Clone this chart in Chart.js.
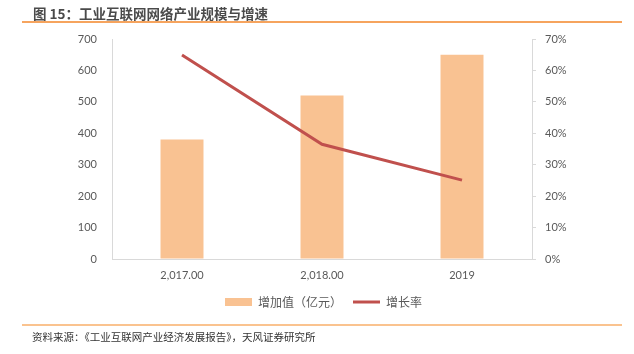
<!DOCTYPE html>
<html>
<head>
<meta charset="utf-8">
<script src="https://cdn.jsdelivr.net/npm/chart.js@4/dist/chart.umd.min.js"></script>
<style>
  html, body { margin: 0; padding: 0; background: #fff; }
  #wrap { position: relative; width: 634px; height: 354px; overflow: hidden; }
  #c { position: absolute; left: 0; top: 0; }
  .title { position: absolute; left: 33px; top: 3px; font: bold 13.5px "Noto Sans CJK SC", sans-serif; color: #4a4a4a; white-space: nowrap; }
  .rule1 { position: absolute; left: 22px; top: 21px; width: 600px; height: 1.5px; background: #F6A45E; }
  .rule2 { position: absolute; left: 22px; top: 324px; width: 600px; height: 1.5px; background: #FAC38F; }
  .source { position: absolute; left: 32px; top: 329px; font: 10.5px "Noto Sans CJK SC", sans-serif; color: #333; white-space: nowrap; }
</style>
</head>
<body>
<div id="wrap">
  <canvas id="c" width="634" height="354"></canvas>
  <div class="title">图 15：工业互联网网络产业规模与增速</div>
  <div class="rule1"></div>
  <div class="rule2"></div>
  <div class="source">资料来源：《工业互联网产业经济发展报告》，天风证券研究所</div>
</div>
<script>
const categories = ["2,017.00", "2,018.00", "2019"];
const valueAdded = [380, 520, 650];        // 增加值（亿元）
const growthRate = [64.9, 36.5, 25.1];     // 增长率 (%)
const leftTicks = [0, 100, 200, 300, 400, 500, 600, 700];
const rightTicks = [0, 10, 20, 30, 40, 50, 60, 70];

const textColor = "#595959";
const tickFont = { family: "Lato, 'Noto Sans CJK SC', sans-serif", size: 11 };

new Chart(document.getElementById("c"), {
  data: {
    labels: categories,
    datasets: [
      {
        type: "bar",
        label: "增加值（亿元）",
        data: valueAdded,
        backgroundColor: "#F9C292",
        borderWidth: 0,
        barPercentage: 0.307,
        categoryPercentage: 1,
        yAxisID: "y",
        order: 2
      },
      {
        type: "line",
        label: "增长率",
        data: growthRate,
        borderColor: "#C0504D",
        backgroundColor: "#C0504D",
        borderWidth: 3,
        pointRadius: 0,
        tension: 0,
        yAxisID: "y1",
        order: 1
      }
    ]
  },
  options: {
    responsive: false,
    animation: false,
    layout: { padding: { left: 13, right: 0, top: 39, bottom: 36 } },
    plugins: {
      tooltip: { enabled: false },
      legend: {
        position: "bottom",
        labels: {
          usePointStyle: true,
          pointStyleWidth: 27,
          boxHeight: 8,
          padding: 11,
          color: textColor,
          font: { family: "'Noto Sans CJK SC', sans-serif", size: 12 },
          sort: (a, b) => a.datasetIndex - b.datasetIndex,
          generateLabels(chart) {
            const items = Chart.defaults.plugins.legend.labels.generateLabels(chart);
            items.forEach(it => {
              if (it.datasetIndex === 0) { it.pointStyle = "rect"; it.lineWidth = 0; }
              else { it.pointStyle = "line"; it.lineWidth = 3; it.strokeStyle = "#C0504D"; }
            });
            return items;
          }
        }
      }
    },
    scales: {
      x: {
        grid: { display: false, drawTicks: false },
        border: { display: true, color: "#D9D9D9", width: 1 },
        ticks: { color: textColor, font: tickFont, padding: 10, maxRotation: 0 },
        afterFit(s) { s.height = 26; }
      },
      y: {
        position: "left",
        min: 0, max: 700,
        afterBuildTicks(s) { s.ticks = leftTicks.map(v => ({ value: v })); },
        grid: { display: true, drawOnChartArea: false, drawTicks: false },
        border: { display: true, color: "#D9D9D9", width: 1 },
        ticks: { color: textColor, font: tickFont, padding: 15 },
        afterFit(s) { s.width = 99; }
      },
      y1: {
        position: "right",
        min: 0, max: 70,
        afterBuildTicks(s) { s.ticks = rightTicks.map(v => ({ value: v })); },
        grid: { display: true, drawOnChartArea: false, drawTicks: true, tickLength: 4, color: "#D9D9D9" },
        border: { display: true, color: "#D9D9D9", width: 1 },
        ticks: { color: textColor, font: tickFont, padding: 9, callback: v => v + "%" },
        afterFit(s) { s.width = 102; }
      }
    }
  }
});
</script>
</body>
</html>
